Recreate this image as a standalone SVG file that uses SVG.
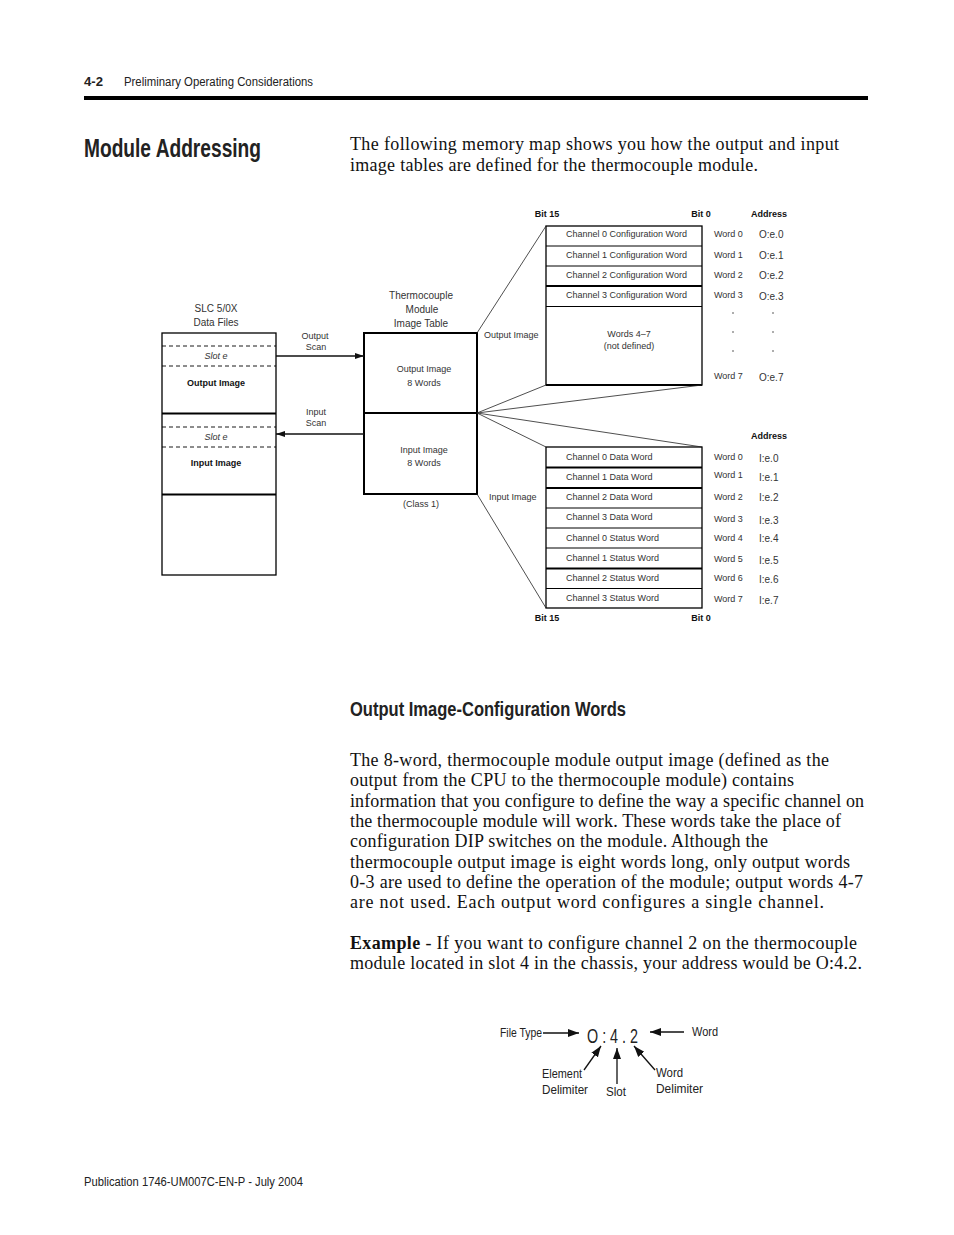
<svg xmlns="http://www.w3.org/2000/svg" width="954" height="1235" viewBox="0 0 954 1235">
<style>
.sans{font-family:"Liberation Sans",Arial,sans-serif;fill:#222}
.serif{font-family:"Liberation Serif","Times New Roman",serif;fill:#111;font-size:18px}
.d9{font-family:"Liberation Sans",Arial,sans-serif;font-size:9px;fill:#333}
.d10{font-family:"Liberation Sans",Arial,sans-serif;font-size:10px;fill:#333}
.b9{font-family:"Liberation Sans",Arial,sans-serif;font-size:9px;font-weight:bold;fill:#111}
.c{text-anchor:middle}
.box{fill:#fff;stroke:#000;stroke-width:1.3}
.thin{stroke:#000;stroke-width:1;fill:none}
.thick{stroke:#000;stroke-width:2;fill:none}
.dash{stroke:#000;stroke-width:0.9;stroke-dasharray:4,3;fill:none}
.conn{stroke:#222;stroke-width:0.8;fill:none}
.arr{stroke:#111;stroke-width:1.3;fill:none}
.big{font-family:"Liberation Sans",Arial,sans-serif;font-size:12px;fill:#222}
</style>
<defs>
<marker id="ah" markerWidth="10" markerHeight="8" refX="9" refY="4" orient="auto" markerUnits="userSpaceOnUse">
<path d="M0,1 L9,4 L0,7 Z" fill="#111"/>
</marker>
<marker id="ah2" markerWidth="12" markerHeight="10" refX="11" refY="5" orient="auto" markerUnits="userSpaceOnUse">
<path d="M0,1 L11,5 L0,9 Z" fill="#111"/>
</marker>
</defs>
<rect width="954" height="1235" fill="#fff"/>

<!-- header -->
<g id="header">
<text x="84" y="86" class="sans" font-size="12" font-weight="bold" textLength="19" lengthAdjust="spacingAndGlyphs">4-2</text>
<text x="124" y="86" class="sans" font-size="12" textLength="189" lengthAdjust="spacingAndGlyphs">Preliminary Operating Considerations</text>
<rect x="84" y="96" width="784" height="4" fill="#000"/>
</g>

<g id="title">
<text x="84" y="157" class="sans" font-size="25" font-weight="bold" fill="#000" textLength="177" lengthAdjust="spacingAndGlyphs">Module Addressing</text>
<text x="350" y="150" class="serif" textLength="489">The following memory map shows you how the output and input</text>
<text x="350" y="171" class="serif" textLength="408">image tables are defined for the thermocouple module.</text>
</g>

<!-- SLC data files -->
<g id="slc">
<text x="216" y="312" class="d10 c">SLC 5/0X</text>
<text x="216" y="326" class="d10 c">Data Files</text>
<rect x="162" y="333" width="114" height="242" class="box"/>
<line x1="162" y1="346" x2="276" y2="346" class="dash"/>
<line x1="162" y1="366" x2="276" y2="366" class="dash"/>
<text x="216" y="359" class="d9 c" font-style="italic">Slot e</text>
<text x="216" y="386" class="b9 c">Output Image</text>
<line x1="162" y1="413.5" x2="276" y2="413.5" class="thick"/>
<line x1="162" y1="427" x2="276" y2="427" class="dash"/>
<line x1="162" y1="447" x2="276" y2="447" class="dash"/>
<text x="216" y="440" class="d9 c" font-style="italic">Slot e</text>
<text x="216" y="466" class="b9 c">Input Image</text>
<line x1="162" y1="494.5" x2="276" y2="494.5" class="thick"/>
</g>

<!-- Thermocouple module image table -->
<g id="module">
<text x="421" y="299" class="d10 c">Thermocouple</text>
<text x="422" y="313" class="d10 c">Module</text>
<text x="421" y="327" class="d10 c">Image Table</text>
<rect x="364" y="333" width="113" height="161" fill="#fff" stroke="#000" stroke-width="2"/>
<line x1="364" y1="413" x2="477" y2="413" class="thick"/>
<text x="424" y="372" class="d9 c">Output Image</text>
<text x="424" y="386" class="d9 c">8 Words</text>
<text x="424" y="453" class="d9 c">Input Image</text>
<text x="424" y="466" class="d9 c">8 Words</text>
<text x="421" y="507" class="d9 c">(Class 1)</text>
</g>

<!-- output config words table -->
<g id="output-table">
<text x="547" y="217" class="b9 c">Bit 15</text>
<text x="701" y="217" class="b9 c">Bit 0</text>
<text x="769" y="217" class="b9 c">Address</text>
<rect x="546" y="226" width="156" height="159" class="box"/>
<line x1="546" y1="246" x2="702" y2="246" class="thin"/>
<line x1="546" y1="266" x2="702" y2="266" class="thin"/>
<line x1="546" y1="286" x2="702" y2="286" class="thick"/>
<line x1="546" y1="306.5" x2="702" y2="306.5" class="thin"/>
<line x1="546" y1="385" x2="702" y2="385" class="thick"/>
<text x="566" y="237" class="d9">Channel 0 Configuration Word</text>
<text x="566" y="258" class="d9">Channel 1 Configuration Word</text>
<text x="566" y="278" class="d9">Channel 2 Configuration Word</text>
<text x="566" y="298" class="d9">Channel 3 Configuration Word</text>
<text x="629" y="337" class="d9 c">Words 4–7</text>
<text x="629" y="349" class="d9 c">(not defined)</text>
<text x="714" y="237" class="d9">Word 0</text>
<text x="714" y="258" class="d9">Word 1</text>
<text x="714" y="278" class="d9">Word 2</text>
<text x="714" y="298" class="d9">Word 3</text>
<text x="714" y="379" class="d9">Word 7</text>
<text x="759" y="238" class="d10">O:e.0</text>
<text x="759" y="259" class="d10">O:e.1</text>
<text x="759" y="279" class="d10">O:e.2</text>
<text x="759" y="300" class="d10">O:e.3</text>
<text x="759" y="381" class="d10">O:e.7</text>
<g fill="#444">
<circle cx="733" cy="313" r="0.8"/><circle cx="773" cy="313" r="0.8"/>
<circle cx="733" cy="332" r="0.8"/><circle cx="773" cy="332" r="0.8"/>
<circle cx="733" cy="351" r="0.8"/><circle cx="773" cy="351" r="0.8"/>
</g>
<text x="484" y="338" class="d9">Output Image</text>
</g>

<!-- input data words table -->
<g id="input-table">
<text x="769" y="439" class="b9 c">Address</text>
<rect x="546" y="447" width="156" height="161" class="box"/>
<line x1="546" y1="467.5" x2="702" y2="467.5" class="thick"/>
<line x1="546" y1="488" x2="702" y2="488" class="thick"/>
<line x1="546" y1="508" x2="702" y2="508" class="thin"/>
<line x1="546" y1="528" x2="702" y2="528" class="thin"/>
<line x1="546" y1="548" x2="702" y2="548" class="thin"/>
<line x1="546" y1="568.5" x2="702" y2="568.5" class="thick"/>
<line x1="546" y1="588.5" x2="702" y2="588.5" class="thin"/>
<text x="566" y="460" class="d9">Channel 0 Data Word</text>
<text x="566" y="480" class="d9">Channel 1 Data Word</text>
<text x="566" y="500" class="d9">Channel 2 Data Word</text>
<text x="566" y="520" class="d9">Channel 3 Data Word</text>
<text x="566" y="541" class="d9">Channel 0 Status Word</text>
<text x="566" y="561" class="d9">Channel 1 Status Word</text>
<text x="566" y="581" class="d9">Channel 2 Status Word</text>
<text x="566" y="601" class="d9">Channel 3 Status Word</text>
<text x="714" y="460" class="d9">Word 0</text>
<text x="714" y="478" class="d9">Word 1</text>
<text x="714" y="500" class="d9">Word 2</text>
<text x="714" y="522" class="d9">Word 3</text>
<text x="714" y="541" class="d9">Word 4</text>
<text x="714" y="562" class="d9">Word 5</text>
<text x="714" y="581" class="d9">Word 6</text>
<text x="714" y="602" class="d9">Word 7</text>
<text x="759" y="462" class="d10">I:e.0</text>
<text x="759" y="481" class="d10">I:e.1</text>
<text x="759" y="501" class="d10">I:e.2</text>
<text x="759" y="524" class="d10">I:e.3</text>
<text x="759" y="542" class="d10">I:e.4</text>
<text x="759" y="564" class="d10">I:e.5</text>
<text x="759" y="583" class="d10">I:e.6</text>
<text x="759" y="604" class="d10">I:e.7</text>
<text x="489" y="500" class="d9">Input Image</text>
<text x="547" y="621" class="b9 c">Bit 15</text>
<text x="701" y="621" class="b9 c">Bit 0</text>
</g>

<!-- connectors -->
<g id="connectors">
<line x1="276" y1="356" x2="364" y2="356" class="arr" marker-end="url(#ah)"/>
<text x="315" y="339" class="d9 c">Output</text>
<text x="316" y="350" class="d9 c">Scan</text>
<line x1="364" y1="434" x2="276" y2="434" class="arr" stroke="#444" marker-end="url(#ah)"/>
<text x="316" y="415" class="d9 c">Input</text>
<text x="316" y="426" class="d9 c">Scan</text>
<line x1="477" y1="333" x2="546" y2="226" class="conn"/>
<line x1="477" y1="413" x2="546" y2="385" class="conn"/>
<line x1="477" y1="413" x2="702" y2="385" class="conn"/>
<line x1="477" y1="413" x2="702" y2="447" class="conn"/>
<line x1="477" y1="413" x2="546" y2="447" class="conn"/>
<line x1="477" y1="494" x2="546" y2="608" class="conn"/>
</g>

<!-- section text -->
<g id="section">
<text x="350" y="716" class="sans" font-size="20" font-weight="bold" fill="#000" textLength="276" lengthAdjust="spacingAndGlyphs">Output Image-Configuration Words</text>
<text x="350" y="766" class="serif" textLength="479">The 8-word, thermocouple module output image (defined as the</text>
<text x="350" y="786" class="serif" textLength="444">output from the CPU to the thermocouple module) contains</text>
<text x="350" y="807" class="serif" textLength="514">information that you configure to define the way a specific channel on</text>
<text x="350" y="827" class="serif" textLength="491">the thermocouple module will work. These words take the place of</text>
<text x="350" y="847" class="serif" textLength="418">configuration DIP switches on the module. Although the</text>
<text x="350" y="868" class="serif" textLength="500">thermocouple output image is eight words long, only output words</text>
<text x="350" y="888" class="serif" textLength="513">0-3 are used to define the operation of the module; output words 4-7</text>
<text x="350" y="908" class="serif" textLength="474">are not used. Each output word configures a single channel.</text>
<text x="350" y="949" class="serif" textLength="507"><tspan font-weight="bold">Example</tspan> - If you want to configure channel 2 on the thermocouple</text>
<text x="350" y="969" class="serif" textLength="512">module located in slot 4 in the chassis, your address would be O:4.2.</text>
</g>

<!-- address example -->
<g id="address-example">
<text x="587" y="1043" class="sans" font-size="21" fill="#222" textLength="51" lengthAdjust="spacingAndGlyphs">O : 4 . 2</text>
<text x="500" y="1037" class="big" textLength="42" lengthAdjust="spacingAndGlyphs">File Type</text>
<line x1="543" y1="1033" x2="579" y2="1033" class="arr" marker-end="url(#ah2)"/>
<text x="692" y="1036" class="big" textLength="26" lengthAdjust="spacingAndGlyphs">Word</text>
<line x1="684" y1="1032" x2="650" y2="1032" class="arr" marker-end="url(#ah2)"/>
<text x="542" y="1078" class="big" textLength="40" lengthAdjust="spacingAndGlyphs">Element</text>
<text x="542" y="1094" class="big" textLength="46" lengthAdjust="spacingAndGlyphs">Delimiter</text>
<line x1="584" y1="1070" x2="601" y2="1046" class="arr" marker-end="url(#ah2)"/>
<text x="606" y="1096" class="big" textLength="20" lengthAdjust="spacingAndGlyphs">Slot</text>
<line x1="617" y1="1084" x2="617" y2="1048" class="arr" marker-end="url(#ah2)"/>
<text x="656" y="1077" class="big" textLength="27" lengthAdjust="spacingAndGlyphs">Word</text>
<text x="656" y="1093" class="big" textLength="47" lengthAdjust="spacingAndGlyphs">Delimiter</text>
<line x1="655" y1="1070" x2="634" y2="1046" class="arr" marker-end="url(#ah2)"/>
</g>

<g id="footer">
<text x="84" y="1186" class="sans" font-size="12" textLength="219" lengthAdjust="spacingAndGlyphs">Publication 1746-UM007C-EN-P - July 2004</text>
</g>
</svg>
